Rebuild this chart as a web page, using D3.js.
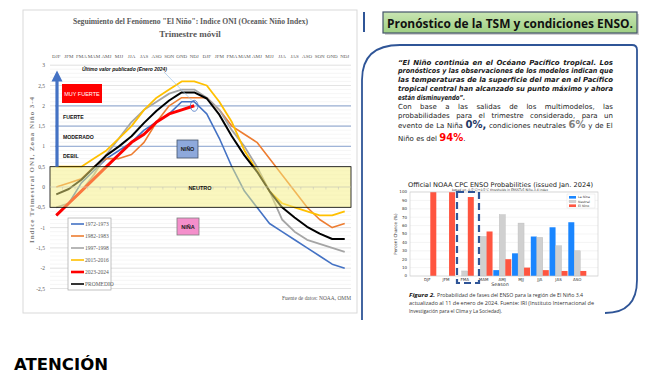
<!DOCTYPE html>
<html><head><meta charset="utf-8">
<script src="https://cdn.jsdelivr.net/npm/d3@7"></script>
<style>body{margin:0;background:#fff}svg{display:block}</style>
</head><body>
<svg id="c" width="658" height="379"></svg>
<script>
// ---------- DATA: ONI chart ----------
const seasons = ["DJF","JFM","FMA","MAM","AMJ","MJJ","JJA","JAS","ASO","SON","OND","NDJ"];
const xLabels = seasons.concat(seasons);
const s1972 = [-0.7,-0.4,0.1,0.4,0.7,0.9,1.1,1.4,1.6,1.8,2.1,2.1,1.8,1.2,0.5,-0.1,-0.5,-0.9,-1.1,-1.3,-1.5,-1.7,-1.9,-2.0];
const s1982 = [0.0,0.1,0.2,0.5,0.7,0.7,0.8,1.1,1.6,2.0,2.2,2.2,2.2,1.9,1.5,1.3,1.1,0.7,0.3,-0.1,-0.5,-0.8,-1.0,-0.9];
const s1997 = [-0.5,-0.4,-0.1,0.3,0.8,1.2,1.6,1.9,2.1,2.3,2.4,2.4,2.2,1.9,1.4,1.0,0.5,-0.1,-0.8,-1.1,-1.3,-1.4,-1.5,-1.6];
const s2015 = [0.5,0.5,0.5,0.7,0.9,1.2,1.5,1.9,2.2,2.4,2.6,2.6,2.5,2.1,1.6,0.9,0.4,-0.1,-0.4,-0.5,-0.6,-0.7,-0.7,-0.6];
const s2023 = [-0.7,-0.4,-0.1,0.2,0.5,0.8,1.1,1.3,1.6,1.8,1.9,2.0];
const promedio = [-0.18,-0.05,0.18,0.48,0.78,1.0,1.25,1.58,1.88,2.13,2.33,2.33,2.18,1.78,1.25,0.78,0.38,-0.1,-0.5,-0.75,-0.98,-1.15,-1.28,-1.28];
const yTicks = [3,2.5,2,1.5,1,0.5,0,-0.5,-1,-1.5,-2,-2.5];
const seriesNames = ["1972-1973","1982-1983","1997-1998","2015-2016","2023-2024","PROMEDIO"];
const intensity = ["FUERTE","MODERADO","DEBIL"];

// ---------- DATA: NOAA probabilities ----------
const probSeasons = ["DJF","JFM","FMA","MAM","AMJ","MJJ","JJA","JAS","ASO"];
const laNina  = [0,0,0,0,7,27,47,58,64];
const neutral = [0,0,6,47,73,63,46,36,30];
const elNino  = [100,100,94,53,20,10,7,6,6];
const probTicks = [0,10,20,30,40,50,60,70,80,90,100];
const probNames = ["La Nina","Neutral","El Nino"];

const svg = d3.select("#c");
const serif = "Liberation Serif, Times New Roman, serif";
const sans = "DejaVu Sans, Verdana, sans-serif";

// ================= LEFT: ONI chart =================
const L = svg.append("g");
L.append("rect").attr("x",23).attr("y",10).attr("width",334).attr("height",303)
  .attr("fill","#fff").attr("stroke","#d9d9d9");

L.append("text").attr("x",190.5).attr("y",24).attr("text-anchor","middle")
  .attr("font-family",serif).attr("font-weight","bold").attr("font-size",9).attr("fill","#595959")
  .attr("textLength",235).attr("lengthAdjust","spacingAndGlyphs")
  .text('Seguimiento del Fenómeno "El Niño": Indice ONI (Oceanic Niño Index)');
L.append("text").attr("x",190).attr("y",37).attr("text-anchor","middle")
  .attr("font-family",serif).attr("font-weight","bold").attr("font-size",9).attr("fill","#595959")
  .text("Trimestre móvil");

const x = d3.scaleBand().domain(d3.range(24)).range([50,351]);
const xc = i => x(i) + x.bandwidth()/2;
const y = d3.scaleLinear().domain([-2.5,3]).range([288.5,65.2]);

// minor & major gridlines
const minor = d3.range(-25,31).map(v=>v/10);
L.append("g").selectAll("line").data(minor).join("line")
  .attr("x1",50).attr("x2",351).attr("y1",d=>y(d)).attr("y2",d=>y(d))
  .attr("stroke","#f0f0f0").attr("stroke-width",0.6);
L.append("g").selectAll("line").data(yTicks).join("line")
  .attr("x1",50).attr("x2",351).attr("y1",d=>y(d)).attr("y2",d=>y(d))
  .attr("stroke","#dcdcdc").attr("stroke-width",0.7);

// y tick labels
L.append("g").selectAll("text").data(yTicks).join("text")
  .attr("x",45).attr("y",d=>y(d)+2).attr("text-anchor","end")
  .attr("font-family",serif).attr("font-size",5.5).attr("fill","#595959")
  .text(d=>String(d).replace(".",","));

// x labels at top
L.append("g").selectAll("text").data(xLabels).join("text")
  .attr("x",(d,i)=>xc(i)).attr("y",58).attr("text-anchor","middle")
  .attr("font-family",serif).attr("font-size",5).attr("fill","#595959")
  .text(d=>d);

// y axis title
L.append("text").attr("transform","translate(34,170) rotate(-90)").attr("text-anchor","middle")
  .attr("font-family",serif).attr("font-weight","bold").attr("font-size",7).attr("fill","#7f7f7f")
  .attr("textLength",146).attr("lengthAdjust","spacing")
  .text("Indice Trimestral ONI, Zona Niño 3-4");

// intensity separator lines
L.append("g").selectAll("line").data([2,1.5,1]).join("line")
  .attr("x1",55).attr("x2",351).attr("y1",d=>y(d)).attr("y2",d=>y(d))
  .attr("stroke","#9fb4d8").attr("stroke-width",1.3);

// lines
const lineGen = d3.line().x((d,i)=>xc(i)).y(d=>y(d));
const series = [
  {v:s1972,c:"#4472C4",w:1.6},
  {v:s1982,c:"#ED7D31",w:1.6},
  {v:s1997,c:"#A5A5A5",w:1.8},
  {v:s2015,c:"#FFC000",w:1.8},
  {v:promedio,c:"#000000",w:2},
  {v:s2023,c:"#FF0000",w:3}
];
L.append("g").selectAll("path").data(series).join("path")
  .attr("d",d=>lineGen(d.v)).attr("fill","none")
  .attr("stroke",d=>d.c).attr("stroke-width",d=>d.w).attr("stroke-linejoin","round");

// neutral band (semi transparent over lines)
L.append("rect").attr("x",50).attr("y",y(0.5)).attr("width",301).attr("height",y(-0.5)-y(0.5))
  .attr("fill","#f5ef80").attr("fill-opacity",0.5).attr("stroke","#000").attr("stroke-width",0.8);
L.append("line").attr("x1",50).attr("x2",351).attr("y1",y(0)).attr("y2",y(0))
  .attr("stroke","#d0d0c0").attr("stroke-width",0.6);
L.append("g").selectAll("line").data(d3.range(1,24)).join("line")
  .attr("x1",d=>x(d)).attr("x2",d=>x(d)).attr("y1",y(0)).attr("y2",y(0)+2.5)
  .attr("stroke","#c8c8b8").attr("stroke-width",0.6);
L.append("text").attr("x",200).attr("y",y(0)+2.5).attr("text-anchor","middle")
  .attr("font-family","Liberation Sans, Arial, sans-serif").attr("font-weight","bold")
  .attr("font-size",5.5).attr("fill","#111").text("NEUTRO");

// arrow
L.append("line").attr("x1",57).attr("x2",57).attr("y1",y(0.5)).attr("y2",81)
  .attr("stroke","#4472C4").attr("stroke-width",3.2);
L.append("path").attr("d","M57,70.5 L51.5,81.5 L62.5,81.5 Z").attr("fill","#4472C4");

// intensity labels
L.append("rect").attr("x",62).attr("y",84).attr("width",40).attr("height",19).attr("fill","#FF0000");
L.append("text").attr("x",82).attr("y",95.5).attr("text-anchor","middle")
  .attr("font-family","Liberation Sans, Arial, sans-serif").attr("font-size",5.5).attr("fill","#fff")
  .text("MUY FUERTE");
L.append("g").selectAll("text").data(intensity).join("text")
  .attr("x",63).attr("y",(d,i)=>[119,138.5,158][i])
  .attr("font-family","Liberation Sans, Arial, sans-serif").attr("font-weight","bold")
  .attr("font-size",5.2).attr("fill","#111").text(d=>d);

// NIÑO / NIÑA boxes
L.append("rect").attr("x",177).attr("y",140).attr("width",21).attr("height",18)
  .attr("fill","#8EA9DB").attr("stroke","#44546A").attr("stroke-width",0.8);
L.append("text").attr("x",187.5).attr("y",151).attr("text-anchor","middle")
  .attr("font-family","Liberation Sans, Arial, sans-serif").attr("font-weight","bold")
  .attr("font-size",5.5).attr("fill","#1a1a1a").text("NIÑO");
L.append("rect").attr("x",177).attr("y",218).attr("width",22).attr("height",17)
  .attr("fill","#F48FCB").attr("stroke","#7f7f7f").attr("stroke-width",0.8);
L.append("text").attr("x",188).attr("y",228.5).attr("text-anchor","middle")
  .attr("font-family","Liberation Sans, Arial, sans-serif").attr("font-weight","bold")
  .attr("font-size",5.5).attr("fill","#1a1a1a").text("NIÑA");

// last value annotation
L.append("text").attr("x",82).attr("y",70.5)
  .attr("font-family","Liberation Sans, Arial, sans-serif").attr("font-weight","bold").attr("font-style","italic")
  .attr("font-size",5.2).attr("fill","#111").attr("textLength",85).attr("lengthAdjust","spacingAndGlyphs")
  .text("Último valor publicado  (Enero 2024)");
L.append("line").attr("x1",164).attr("y1",72).attr("x2",xc(11)-2).attr("y2",y(2.0)-5)
  .attr("stroke","#9DC3E6").attr("stroke-width",0.7);
L.append("ellipse").attr("cx",xc(11)).attr("cy",y(2.0)).attr("rx",3.8).attr("ry",5.5)
  .attr("fill","none").attr("stroke","#4472C4").attr("stroke-width",0.8);

// legend
L.append("rect").attr("x",68).attr("y",218).attr("width",43).attr("height",72)
  .attr("fill","#fff").attr("stroke","#a6a6a6").attr("stroke-width",0.7);
const legColors = ["#4472C4","#ED7D31","#A5A5A5","#FFC000","#FF0000","#000000"];
const lg = L.append("g").selectAll("g").data(seriesNames).join("g")
  .attr("transform",(d,i)=>`translate(0,${224+i*12})`);
lg.append("line").attr("x1",71).attr("x2",84).attr("y1",0).attr("y2",0)
  .attr("stroke",(d,i)=>legColors[i]).attr("stroke-width",(d,i)=>i===4?2.6:1.6);
lg.append("text").attr("x",85).attr("y",2).attr("font-family",serif).attr("font-size",5.5)
  .attr("fill","#595959").text(d=>d);

L.append("text").attr("x",351).attr("y",300).attr("text-anchor","end")
  .attr("font-family",serif).attr("font-size",5.5).attr("fill","#595959")
  .attr("textLength",69).attr("lengthAdjust","spacingAndGlyphs")
  .text("Fuente de datos: NOAA, OMM");

// ================= RIGHT: text panel =================
const R = svg.append("g");
R.append("line").attr("x1",364).attr("x2",364).attr("y1",12).attr("y2",32)
  .attr("stroke","#2F5597").attr("stroke-width",2);
R.append("path").attr("d","M362,320 L362,80 Q362,45 400,45 L632,45 Q637,45 637,50 L637,280 Q637,313 605,313")
  .attr("fill","none").attr("stroke","#2F5597").attr("stroke-width",1.8);

const grad = svg.append("defs").append("linearGradient").attr("id","gg")
  .attr("x1","0").attr("y1","0").attr("x2","0").attr("y2","1");
grad.append("stop").attr("offset","0").attr("stop-color","#c9e5b3");
grad.append("stop").attr("offset","1").attr("stop-color","#9fd083");
R.append("rect").attr("x",385).attr("y",14).attr("width",254).attr("height",21).attr("fill","#d0d0d0");
R.append("rect").attr("x",383).attr("y",12).attr("width",254).attr("height",21)
  .attr("fill","url(#gg)").attr("stroke","#44546A").attr("stroke-width",1.2);
R.append("text").attr("x",387).attr("y",27.5)
  .attr("font-family","Open Sans, DejaVu Sans, sans-serif").attr("font-weight","bold").attr("font-size",12.5)
  .attr("fill","#111").attr("textLength",246).attr("lengthAdjust","spacingAndGlyphs")
  .text("Pronóstico de la TSM y condiciones ENSO.");

function textLine(g, x0, yy, parts, o) {
  const t = g.append("text").attr("x",x0).attr("y",yy).attr("font-family",o.family||sans)
    .attr("font-size",o.size).attr("fill",o.fill||"#1a1a1a");
  if (o.weight) t.attr("font-weight",o.weight);
  if (o.style) t.attr("font-style",o.style);
  parts.forEach(p => {
    const ts = t.append("tspan").text(p.t);
    if (p.fill) ts.attr("fill",p.fill);
    if (p.size) ts.attr("font-size",p.size);
    if (p.weight) ts.attr("font-weight",p.weight);
  });
  if (o.width) {
    const w = t.node().getComputedTextLength();
    if (w > o.width) t.attr("textLength",o.width).attr("lengthAdjust","spacingAndGlyphs");
    else if (o.justify) {
      const n = (t.text().match(/ /g)||[]).length;
      if (n) t.style("word-spacing",((o.width-w)/n)+"px");
    }
  }
  return t;
}
const quote = [
  "“El Niño continúa en el Océano Pacífico tropical. Los",
  "pronósticos y las observaciones de los modelos indican que",
  "las temperaturas de la superficie del mar en el Pacífico",
  "tropical central han alcanzado su punto máximo y ahora",
  "están disminuyendo”."
];
const qY = [64.5,73.3,82.3,91,99.6];
quote.forEach((q,i)=>{
  const t = textLine(R,398,qY[i],[{t:q}],
    {size:7,weight:"bold",style:"italic",width:i<4?215:0,justify:i<4});
  if (i===4) t.attr("textLength",67).attr("lengthAdjust","spacingAndGlyphs");
});
textLine(R,398,109,[{t:"Con base a las salidas de los multimodelos, las"}],{size:7,width:215,justify:true});
textLine(R,398,117.5,[{t:"probabilidades para el trimestre considerado, para un"}],{size:7,width:215,justify:true});
textLine(R,398,128,[
  {t:"evento de La Niña "},{t:"0%,",fill:"#1F3864",size:10,weight:"bold"},
  {t:" condiciones neutrales "},{t:"6%",fill:"#7f7f7f",size:10,weight:"bold"},
  {t:" y de  El"}],{size:7,width:215,justify:true});
textLine(R,398,140.5,[{t:"Niño es del "},{t:"94%",fill:"#FF0000",size:10,weight:"bold"},{t:"."}],{size:7});

// ================= RIGHT: NOAA bar chart =================
const B = svg.append("g");
B.append("text").attr("x",500.5).attr("y",186.5).attr("text-anchor","middle")
  .attr("font-family",sans).attr("font-size",6.5).attr("fill","#222")
  .attr("textLength",185).attr("lengthAdjust","spacingAndGlyphs")
  .text("Official NOAA CPC ENSO Probabilities (issued Jan. 2024)");
B.append("text").attr("x",500).attr("y",191).attr("text-anchor","middle")
  .attr("font-family",sans).attr("font-size",3.3).attr("fill","#333")
  .attr("textLength",96).attr("lengthAdjust","spacingAndGlyphs")
  .text("based on -0.5°C/+0.5°C thresholds in ERSSTv5 Niño-3.4 index");

const bx = d3.scalePoint().domain(probSeasons).range([427.3,577.3]);
const sub = d3.scaleBand().domain(probNames).range([-9,9]);
const by = d3.scaleLinear().domain([0,100]).range([276,192]);

B.append("g").selectAll("line").data(probTicks).join("line")
  .attr("x1",410).attr("x2",598).attr("y1",d=>by(d)).attr("y2",d=>by(d))
  .attr("stroke","#e8e8e8").attr("stroke-width",0.5);
B.append("g").selectAll("text").data(probTicks).join("text")
  .attr("x",407).attr("y",d=>by(d)+1.4).attr("text-anchor","end")
  .attr("font-family",sans).attr("font-size",4).attr("fill","#333").text(d=>d);
B.append("text").attr("transform","translate(397,234) rotate(-90)").attr("text-anchor","middle")
  .attr("font-family",sans).attr("font-size",4.2).attr("fill","#333").text("Percent Chance (%)");

const barColors = {"La Nina":"#1a86ff","Neutral":"#d0d0d0","El Nino":"#ff5540"};
const probRows = probSeasons.map((s,i)=>({s, vals:[laNina[i],neutral[i],elNino[i]]}));
const bg = B.append("g").selectAll("g").data(probRows).join("g")
  .attr("transform",d=>`translate(${bx(d.s)},0)`);
bg.selectAll("rect").data(d=>d.vals.map((v,k)=>({k:probNames[k],v}))).join("rect")
  .attr("x",d=>sub(d.k)).attr("width",sub.bandwidth())
  .attr("y",d=>by(d.v)).attr("height",d=>276-by(d.v))
  .attr("fill",d=>barColors[d.k])
  .attr("stroke",d=>d.k==="Neutral"?"#b8b8b8":"none").attr("stroke-width",0.4);

B.append("rect").attr("x",410).attr("y",192).attr("width",188).attr("height",84)
  .attr("fill","none").attr("stroke","#c8c8c8").attr("stroke-width",0.6);
B.append("g").selectAll("text").data(probSeasons).join("text")
  .attr("x",d=>bx(d)).attr("y",280.5).attr("text-anchor","middle")
  .attr("font-family",sans).attr("font-size",4).attr("fill","#333").text(d=>d);
B.append("text").attr("x",500).attr("y",285.5).attr("text-anchor","middle")
  .attr("font-family",sans).attr("font-size",4.8).attr("fill","#333").text("Season");

// legend
B.append("rect").attr("x",567).attr("y",194).attr("width",28).attr("height",14)
  .attr("fill","#fff").attr("stroke","#dcdcdc").attr("stroke-width",0.4);
const bl = B.append("g").selectAll("g").data(probNames).join("g")
  .attr("transform",(d,i)=>`translate(569,${196+i*4.2})`);
bl.append("rect").attr("width",7).attr("height",2.6).attr("fill",d=>barColors[d])
  .attr("stroke",d=>d==="Neutral"?"#b8b8b8":"none").attr("stroke-width",0.3);
bl.append("text").attr("x",9).attr("y",2.4).attr("font-family",sans).attr("font-size",3.2)
  .attr("fill","#333").text(d=>d);

// dashed highlight
B.append("rect").attr("x",457).attr("y",192).attr("width",22).attr("height",91)
  .attr("fill","none").attr("stroke","#2F5597").attr("stroke-width",2.2).attr("stroke-dasharray","7,4");

// caption
const cap = B.append("g").attr("font-family","Open Sans, DejaVu Sans, sans-serif").attr("font-size",5.9).attr("fill","#333");
cap.append("text").attr("x",409).attr("y",296.5).attr("font-weight","bold").attr("font-style","italic")
  .attr("fill","#111").attr("textLength",26).attr("lengthAdjust","spacingAndGlyphs").text("Figura 2.");
cap.append("text").attr("x",437).attr("y",296.5).attr("textLength",146).attr("lengthAdjust","spacingAndGlyphs")
  .text("Probabilidad de fases del ENSO para la región de El Niño 3.4");
cap.append("text").attr("x",409).attr("y",304.6).attr("textLength",185).attr("lengthAdjust","spacingAndGlyphs")
  .text("actualizado al 11 de enero de 2024. Fuente: IRI (Instituto Internacional de");
cap.append("text").attr("x",409).attr("y",312.6).attr("textLength",93).attr("lengthAdjust","spacingAndGlyphs")
  .text("Investigación para el Clima y La Sociedad).");

// ================= bottom =================
svg.append("text").attr("x",14).attr("y",370).attr("font-family",sans).attr("font-weight","bold")
  .attr("font-size",16).attr("fill","#000").attr("textLength",94).attr("lengthAdjust","spacingAndGlyphs")
  .text("ATENCIÓN");
</script>
</body></html>
